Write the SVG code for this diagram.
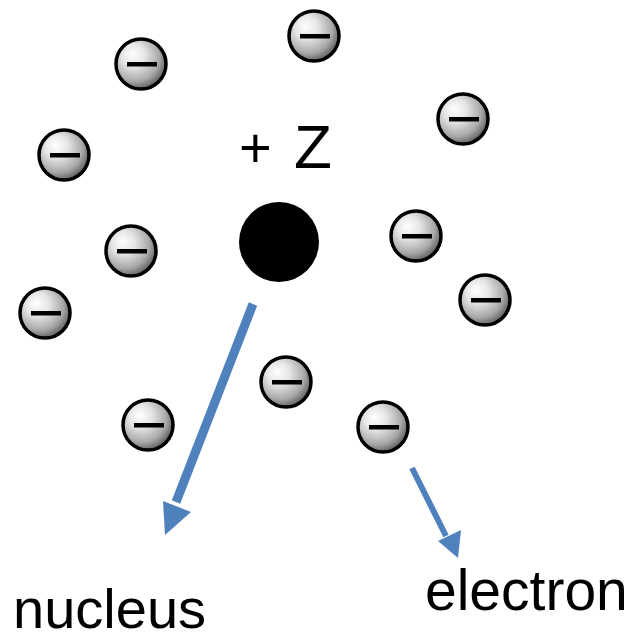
<svg xmlns="http://www.w3.org/2000/svg" width="634" height="639" viewBox="0 0 634 639">
<style>
.lbl{font-family:"Liberation Sans",Arial,sans-serif;fill:#000}
.arr{stroke:#4f81bd;fill:none}
</style>
<defs>
<radialGradient id="g" cx="0.4" cy="0.38" r="0.65" fx="0.32" fy="0.3">
<stop offset="0" stop-color="#ffffff"/>
<stop offset="0.35" stop-color="#e6e6e6"/>
<stop offset="0.75" stop-color="#a8a8a8"/>
<stop offset="1" stop-color="#5a5a5a"/>
</radialGradient>
<symbol id="el" overflow="visible">
<circle cx="0" cy="0" r="25" fill="url(#g)" stroke="#000" stroke-width="3.5"/>
<rect x="-14" y="-2" width="30" height="4.5" fill="#000"/>
</symbol>
</defs>
<rect width="634" height="639" fill="#fff"/>
<g id="electrons">
<g id="e1"><use href="#el" x="141" y="64"/></g>
<g id="e2"><use href="#el" x="314" y="36"/></g>
<g id="e3"><use href="#el" x="463" y="119"/></g>
<g id="e4"><use href="#el" x="64" y="155"/></g>
<g id="e5"><use href="#el" x="131" y="251"/></g>
<g id="e6"><use href="#el" x="416" y="236"/></g>
<g id="e7"><use href="#el" x="45" y="313"/></g>
<g id="e8"><use href="#el" x="485" y="300"/></g>
<g id="e9"><use href="#el" x="286" y="382"/></g>
<g id="e10"><use href="#el" x="148" y="425"/></g>
<g id="e11"><use href="#el" x="383" y="427"/></g>
</g>
<g id="nucleus">
<circle cx="279" cy="242" r="40" fill="#000"/>
<text class="lbl" x="239" y="167" font-size="56">+</text>
<text class="lbl" x="294" y="168" font-size="62">Z</text>
</g>
<g id="connectors">
<path class="arr" stroke-width="9" d="M253 304 L176 502"/>
<polygon fill="#4f81bd" points="163,501 191,512 165,535"/>
<path class="arr" stroke-width="6" d="M412 468 L446 536"/>
<polygon fill="#4f81bd" points="438,541 461,530 458,558"/>
</g>
<g id="labels">
<text class="lbl" x="13" y="628" font-size="56">nucleus</text>
<text class="lbl" x="425" y="610" font-size="57">electron</text>
</g>
</svg>
